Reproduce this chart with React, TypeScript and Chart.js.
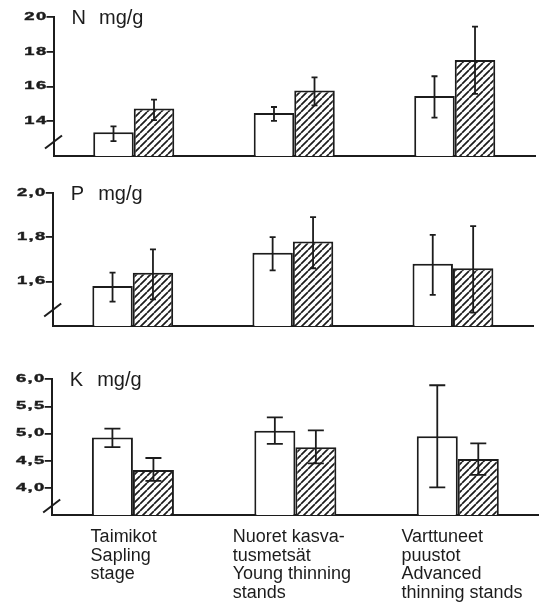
import React, { useEffect, useRef } from "react";
import { Chart, registerables } from "chart.js";
Chart.register(...registerables);

// ---------- data ----------
const categories: string[][] = [
  ["Taimikot", "Sapling", "stage"],
  ["Nuoret kasva-", "tusmetsät", "Young thinning", "stands"],
  ["Varttuneet", "puustot", "Advanced", "thinning stands"],
];

// N mg/g
const nOpen = [13.37, 14.47, 15.45];
const nOpenLow = [12.86, 14.02, 14.21];
const nOpenHigh = [13.71, 14.82, 16.59];
const nHatched = [14.73, 15.77, 17.53];
const nHatchedLow = [14.06, 14.91, 15.58];
const nHatchedHigh = [15.24, 16.53, 19.45];
const nTicks = ["14", "16", "18", "20"];

// P mg/g
const pOpen = [1.58, 1.73, 1.68];
const pOpenLow = [1.51, 1.65, 1.54];
const pOpenHigh = [1.64, 1.8, 1.81];
const pHatched = [1.64, 1.78, 1.66];
const pHatchedLow = [1.52, 1.66, 1.46];
const pHatchedHigh = [1.745, 1.89, 1.85];
const pTicks = ["1,6", "1,8", "2,0"];

// K mg/g
const kOpen = [4.93, 5.05, 4.95];
const kOpenLow = [4.75, 4.81, 4.01];
const kOpenHigh = [5.09, 5.3, 5.89];
const kHatched = [4.33, 4.75, 4.53];
const kHatchedLow = [4.13, 4.45, 4.24];
const kHatchedHigh = [4.55, 5.06, 4.82];
const kTicks = ["4,0", "4,5", "5,0", "5,5", "6,0"];

const INK = "#1c1c1c";
const W = 539;

type PanelProps = {
  top: number;
  height: number;
  areaTop: number;
  areaBottom: number;
  axisLeft: number;
  axisRight: number;
  min: number;
  max: number;
  ticks: string[];
  letter: string;
  open: number[];
  openLow: number[];
  openHigh: number[];
  hatched: number[];
  hatchedLow: number[];
  hatchedHigh: number[];
  cap: number;
  breakOffset: number;
  showLabels?: boolean;
  labelShift?: number[];
  labelTop?: number;
};

function makeHatch(): CanvasPattern | string {
  const s = 7;
  const c = document.createElement("canvas");
  c.width = s;
  c.height = s;
  const g = c.getContext("2d");
  if (!g) return "#888";
  g.fillStyle = "#fff";
  g.fillRect(0, 0, s, s);
  g.strokeStyle = INK;
  g.lineWidth = 1.7;
  g.beginPath();
  for (const k of [-s, 0, s]) {
    g.moveTo(k, s);
    g.lineTo(k + s, 0);
  }
  g.stroke();
  const pat = g.createPattern(c, "repeat");
  return pat || "#888";
}

function Panel(p: PanelProps) {
  const ref = useRef<HTMLCanvasElement>(null);
  useEffect(() => {
    const canvas = ref.current;
    if (!canvas) return;
    const hatch = makeHatch();
    const tickVals = p.ticks.map((t) => parseFloat(t.replace(",", ".")));
    const extras = {
      id: "extras",
      afterDatasetsDraw(chart: any) {
        const ctx = chart.ctx;
        const y = chart.scales.y;
        ctx.save();
        ctx.strokeStyle = INK;
        ctx.lineWidth = 1.8;
        const errs = [
          [p.openLow, p.openHigh],
          [p.hatchedLow, p.hatchedHigh],
        ];
        errs.forEach(([lo, hi], d) => {
          const meta = chart.getDatasetMeta(d);
          meta.data.forEach((el: any, i: number) => {
            const x = el.x;
            const y1 = y.getPixelForValue(lo[i]);
            const y2 = y.getPixelForValue(hi[i]);
            ctx.beginPath();
            ctx.moveTo(x, y1);
            ctx.lineTo(x, y2);
            ctx.moveTo(x - p.cap, y1);
            ctx.lineTo(x + p.cap, y1);
            ctx.moveTo(x - p.cap, y2);
            ctx.lineTo(x + p.cap, y2);
            ctx.stroke();
          });
        });
        ctx.restore();
      },
      afterDraw(chart: any) {
        const ctx = chart.ctx;
        const area = chart.chartArea;
        const y = chart.scales.y;
        // tick labels (wide, heavy lettering)
        ctx.save();
        ctx.fillStyle = INK;
        ctx.strokeStyle = INK;
        ctx.lineWidth = 0.4;
        ctx.font = 'bold 10.5px "Liberation Sans", Arial, sans-serif';
        ctx.textAlign = "right";
        ctx.textBaseline = "middle";
        (ctx as any).letterSpacing = "0.8px";
        p.ticks.forEach((t, i) => {
          ctx.save();
          ctx.translate(area.left - 6, y.getPixelForValue(tickVals[i]));
          ctx.scale(1.75, 1);
          ctx.fillText(t, 0, 0);
          ctx.strokeText(t, 0, 0);
          ctx.restore();
        });
        ctx.restore();
        // title
        ctx.save();
        ctx.fillStyle = INK;
        ctx.font = '20px "Liberation Sans", Arial, sans-serif';
        ctx.textBaseline = "alphabetic";
        ctx.textAlign = "left";
        ctx.fillText(p.letter, area.left + 18, area.top + 7);
        ctx.fillText("mg/g", area.left + 45.5, area.top + 7);
        ctx.restore();
        // axis break
        ctx.save();
        ctx.strokeStyle = INK;
        ctx.lineWidth = 2;
        const by = area.bottom - p.breakOffset;
        ctx.beginPath();
        ctx.moveTo(area.left - 8.5, by + 6.5);
        ctx.lineTo(area.left + 8.5, by - 6.5);
        ctx.stroke();
        ctx.restore();
        // category labels
        if (p.showLabels) {
          const xs = chart.scales.x;
          ctx.save();
          ctx.fillStyle = INK;
          ctx.font = '18px "Liberation Sans", Arial, sans-serif';
          ctx.textAlign = "left";
          ctx.textBaseline = "alphabetic";
          categories.forEach((lines, i) => {
            const lx = xs.getPixelForValue(i) + (p.labelShift ? p.labelShift[i] : 0);
            lines.forEach((line, j) => {
              ctx.fillText(line, lx, (p.labelTop || 0) + j * 18.8);
            });
          });
          ctx.restore();
        }
      },
    };

    const chart = new Chart(canvas, {
      type: "bar",
      data: {
        labels: categories.map((c) => c.join(" ")),
        datasets: [
          {
            data: p.open,
            backgroundColor: "#fff",
            borderColor: INK,
            borderWidth: 2,
            borderSkipped: false,
            categoryPercentage: 0.505,
            barPercentage: 1,
          },
          {
            data: p.hatched,
            backgroundColor: hatch as any,
            borderColor: INK,
            borderWidth: 2,
            borderSkipped: false,
            categoryPercentage: 0.505,
            barPercentage: 1,
          },
        ],
      },
      options: {
        responsive: false,
        animation: false,
        events: [],
        layout: {
          padding: { top: p.areaTop, right: W - p.axisRight, left: 0, bottom: 0 },
        },
        plugins: {
          legend: { display: false },
          tooltip: { enabled: false },
          title: { display: false },
        },
        scales: {
          x: {
            type: "category",
            offset: true,
            grid: { display: false },
            border: { display: true, color: INK, width: 2 },
            ticks: { display: false },
            afterFit: (s: any) => {
              s.height = p.height - p.areaBottom;
            },
          },
          y: {
            min: p.min,
            max: p.max,
            grid: {
              display: true,
              drawOnChartArea: false,
              drawTicks: true,
              tickLength: 7,
              color: INK,
              lineWidth: 1.8,
            },
            border: { display: true, color: INK, width: 2 },
            ticks: { display: false },
            afterBuildTicks: (s: any) => {
              s.ticks = tickVals.map((v) => ({ value: v }));
            },
            afterFit: (s: any) => {
              s.width = p.axisLeft;
            },
          },
        },
      } as any,
      plugins: [extras],
    });
    return () => chart.destroy();
  }, []);
  return (
    <canvas
      ref={ref}
      width={W}
      height={p.height}
      style={{ position: "absolute", left: 0, top: p.top, width: W, height: p.height }}
    />
  );
}

export default function App() {
  return (
    <div style={{ position: "absolute", left: 0, top: 0, width: W, height: 607, background: "#fff" }}>
      <Panel
        top={0}
        height={166}
        areaTop={17}
        areaBottom={156}
        axisLeft={53.5}
        axisRight={535}
        min={12}
        max={20}
        ticks={nTicks}
        letter="N"
        open={nOpen}
        openLow={nOpenLow}
        openHigh={nOpenHigh}
        hatched={nHatched}
        hatchedLow={nHatchedLow}
        hatchedHigh={nHatchedHigh}
        cap={3}
        breakOffset={14}
      />
      <Panel
        top={166}
        height={170}
        areaTop={26.7}
        areaBottom={160}
        axisLeft={52.7}
        axisRight={533}
        min={1.4}
        max={2.0}
        ticks={pTicks}
        letter="P"
        open={pOpen}
        openLow={pOpenLow}
        openHigh={pOpenHigh}
        hatched={pHatched}
        hatchedLow={pHatchedLow}
        hatchedHigh={pHatchedHigh}
        cap={3}
        breakOffset={16}
      />
      <Panel
        top={336}
        height={271}
        areaTop={43.3}
        areaBottom={179}
        axisLeft={51.7}
        axisRight={539}
        min={3.5}
        max={6.0}
        ticks={kTicks}
        letter="K"
        open={kOpen}
        openLow={kOpenLow}
        openHigh={kOpenHigh}
        hatched={kHatched}
        hatchedLow={kHatchedLow}
        hatchedHigh={kHatchedHigh}
        cap={8}
        breakOffset={9}
        showLabels={true}
        labelShift={[-42.3, -62.7, -56.4]}
        labelTop={205.7}
      />
    </div>
  );
}
